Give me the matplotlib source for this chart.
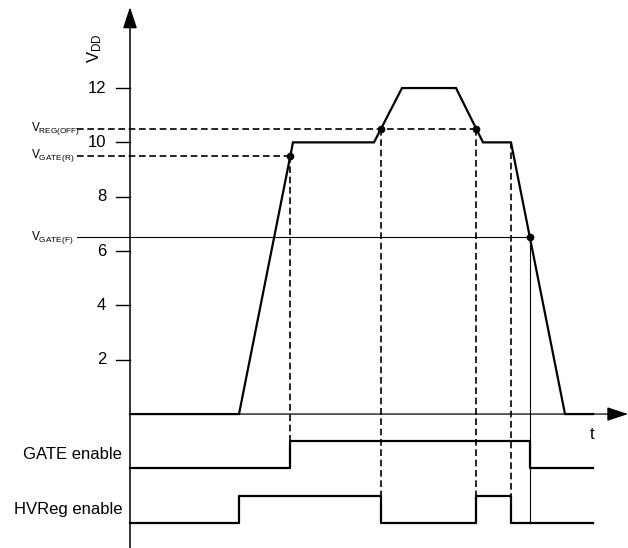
import numpy as np
import matplotlib
matplotlib.use("Agg")
import matplotlib.pyplot as plt

plt.rcParams["font.family"] = ["Liberation Sans", "DejaVu Sans"]
plt.rcParams["mathtext.fontset"] = "custom"
plt.rcParams["mathtext.rm"] = "Liberation Sans"
plt.rcParams["mathtext.it"] = "Liberation Sans:italic"

# V_DD waveform (time in arbitrary units, volts)
vdd_t = [0, 10.9, 16.3, 24.4, 27.2, 32.6, 35.3, 38.1, 43.5, 46.3]
vdd_v = [0, 0, 10, 10, 12, 12, 10, 10, 0, 0]

# thresholds
v_reg_off = 10.5
v_gate_r = 9.5
v_gate_f = 6.5

# event times (where V_DD crosses thresholds)
t_gate_on = 16.0
t_reg_off1 = 25.1
t_reg_on = 34.6
t_reg_off2 = 38.1
t_gate_off = 40.0
t_end = 46.3

# digital signals
gate_t = [0, t_gate_on, t_gate_off, t_end]
gate_state = [0, 1, 0, 0]
hvreg_t = [0, 10.9, t_reg_off1, t_reg_on, t_reg_off2, t_end]
hvreg_state = [0, 1, 0, 1, 0, 0]

yticks = [2, 4, 6, 8, 10, 12]

gate_low, hvreg_low = -2, -4

fig = plt.figure(figsize=(6.28, 5.48), dpi=100)
ax = fig.add_axes([0, 0, 1, 1])
ax.set_xlim(-13, 49.8)
ax.set_ylim(-4.93, 15.24)
ax.axis("off")

thick = 1.6
dash = dict(color="black", lw=1.2, ls=(0, (4, 2.2)))

# axes with arrows
ax.annotate("", xy=(0, 14.98), xytext=(0, -4.93),
            arrowprops=dict(arrowstyle="-|>,head_length=1.3,head_width=0.43",
                            mutation_scale=10, lw=1.1, color="black",
                            shrinkA=0, shrinkB=0))
ax.annotate("", xy=(49.8, 0), xytext=(0, 0),
            arrowprops=dict(arrowstyle="-|>,head_length=1.3,head_width=0.43",
                            mutation_scale=10, lw=0.9, color="black",
                            shrinkA=0, shrinkB=0))

# ticks
for v in yticks:
    ax.plot([-1.4, 0], [v, v], color="black", lw=1.0)
    ax.text(-2.4, v, str(v), ha="right", va="center", fontsize=12)

# threshold lines
ax.plot([-5.3, t_reg_on], [v_reg_off, v_reg_off], **dash)
ax.plot([-5.3, t_gate_on], [v_gate_r, v_gate_r], **dash)
ax.plot([-5.3, t_gate_off], [v_gate_f, v_gate_f], color="black", lw=0.8)

ax.text(-9.9, v_reg_off, r"$\mathrm{V_{REG(OFF)}}$", ha="left", va="center", fontsize=8.5)
ax.text(-9.9, v_gate_r, r"$\mathrm{V_{GATE(R)}}$", ha="left", va="center", fontsize=8.5)
ax.text(-9.9, v_gate_f, r"$\mathrm{V_{GATE(F)}}$", ha="left", va="center", fontsize=8.5)

# vertical markers
ax.plot([t_gate_on, t_gate_on], [v_gate_r, gate_low + 1], **dash)
ax.plot([t_reg_off1, t_reg_off1], [v_reg_off, hvreg_low], **dash)
ax.plot([t_reg_on, t_reg_on], [v_reg_off, hvreg_low], **dash)
ax.plot([t_reg_off2, t_reg_off2], [10, hvreg_low], **dash)
ax.plot([t_gate_off, t_gate_off], [v_gate_f, hvreg_low], color="black", lw=0.8)

# V_DD trace
ax.plot(vdd_t, vdd_v, color="black", lw=thick, solid_joinstyle="miter")

# crossing dots
ax.plot([t_gate_on, t_reg_off1, t_reg_on, t_gate_off],
        [v_gate_r, v_reg_off, v_reg_off, v_gate_f],
        "o", color="black", ms=4.5)

# digital signals
ax.step(gate_t, np.array(gate_state) + gate_low, where="post", color="black", lw=thick)
ax.step(hvreg_t, np.array(hvreg_state) + hvreg_low, where="post", color="black", lw=thick)

ax.text(-0.8, gate_low + 0.5, "GATE enable", ha="right", va="center", fontsize=12)
ax.text(-0.8, hvreg_low + 0.5, "HVReg enable", ha="right", va="center", fontsize=12)

ax.text(-3.5, 13.45, r"$\mathrm{V_{DD}}$", ha="center", va="center",
        rotation=90, fontsize=12)
ax.text(46.2, -0.74, "t", ha="center", va="center", fontsize=12)

fig.savefig("out.png", dpi=100)
